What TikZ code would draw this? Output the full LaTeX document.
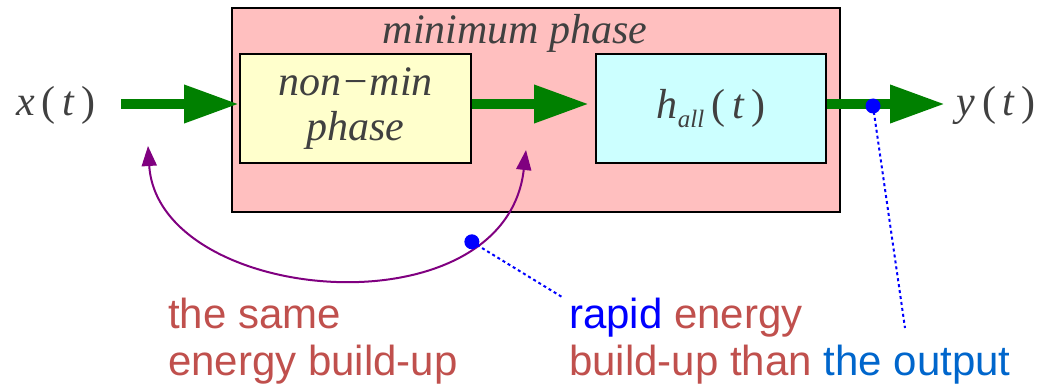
\documentclass[tikz,border=0pt]{standalone}
\usepackage{fontspec}
\setmainfont{Liberation Serif}
\setsansfont{Liberation Sans}
\usetikzlibrary{arrows.meta}
\definecolor{outerpink}{HTML}{FFBFBF}
\definecolor{nonminyellow}{HTML}{FFFFCC}
\definecolor{allcyan}{HTML}{CCFFFF}
\definecolor{sigflow}{HTML}{008000}
\definecolor{energy}{HTML}{800080}
\definecolor{probeblue}{HTML}{0000FF}
\definecolor{notered}{HTML}{C0504D}
\definecolor{outblue}{HTML}{0066CC}
\definecolor{labelgray}{HTML}{404040}
% signal of time, e.g. x(t)
\newcommand{\sig}[1]{#1\,{\upshape(}\,t\,{\upshape)}}
\tikzset{
  blk/.style={draw=black,line width=2pt,inner sep=0pt},
  lbl/.style={font=\fontsize{42}{45}\selectfont\itshape,text=labelgray},
  flow/.style={-{Triangle[length=55pt,width=36pt]},sigflow,line width=10pt},
  swing/.style={{Triangle[length=20pt,width=15pt]}-{Triangle[length=20pt,width=15pt]},energy,line width=2pt},
  probe/.style={probeblue,line width=2pt,dash pattern=on 3pt off 3pt},
  tapdot/.style={circle,fill=probeblue,inner sep=0pt,minimum size=15pt},
  note/.style={font=\sffamily\fontsize{42}{47}\selectfont,text=notered,align=left,inner sep=0pt},
}
\begin{document}
\begin{tikzpicture}[x=1pt,y=-1pt]
  \useasboundingbox (0,0) rectangle (1049,385);
  % blocks
  \node[blk,fill=outerpink,minimum width=608pt,minimum height=204pt] (minph) at (536,110) {};
  \node[lbl] (minlbl) at (515,33) {minimum\hspace{10pt}phase};
  \node[blk,fill=nonminyellow,minimum width=231pt,minimum height=109pt,lbl,align=center] (nonmin) at (355.5,108.5) {non−min\\phase};
  \node[blk,fill=allcyan,minimum width=230pt,minimum height=109pt,lbl] (hall) at (711,108.5)
    {h\raisebox{-9pt}{\fontsize{25}{25}\selectfont all}\,{\upshape(}\,t\,{\upshape)}};
  \node[lbl] (xt) at (56,105) {\sig{x}};
  \node[lbl] (yt) at (996,105) {\sig{y}};
  % signal path
  \coordinate (src) at (121,104);
  \coordinate (snk) at (945,104);
  \draw[flow] (src) -- (nonmin.west |- src);
  \draw[flow] (nonmin.east |- src) -- ([xshift=-6pt]hall.west |- src);
  \draw[flow] (hall.east |- src) -- (snk);
  % energy build-up
  \coordinate (ls) at (148,146);
  \coordinate (rs) at (526,150);
  \draw[swing] (ls) .. controls (158,305) and (505,335) .. (rs) coordinate[pos=0.78] (mid);
  \node[note,anchor=base west] (same) at (168,375) {the same\\energy build-up};
  \node[note,anchor=base west] (rapid) at (569,375)
    {\textcolor{probeblue}{rapid} energy\\build-up than \textcolor{outblue}{the output}};
  \coordinate (rapidend) at (562,297);
  \coordinate (outend) at (905,328);
  \draw[probe] (mid) -- (rapidend);
  \node[tapdot] (ebuild) at (mid) {};
  \draw[probe] (873,106) -- (outend);
  \node[tapdot] (tap) at (873,106) {};
\end{tikzpicture}
\end{document}
